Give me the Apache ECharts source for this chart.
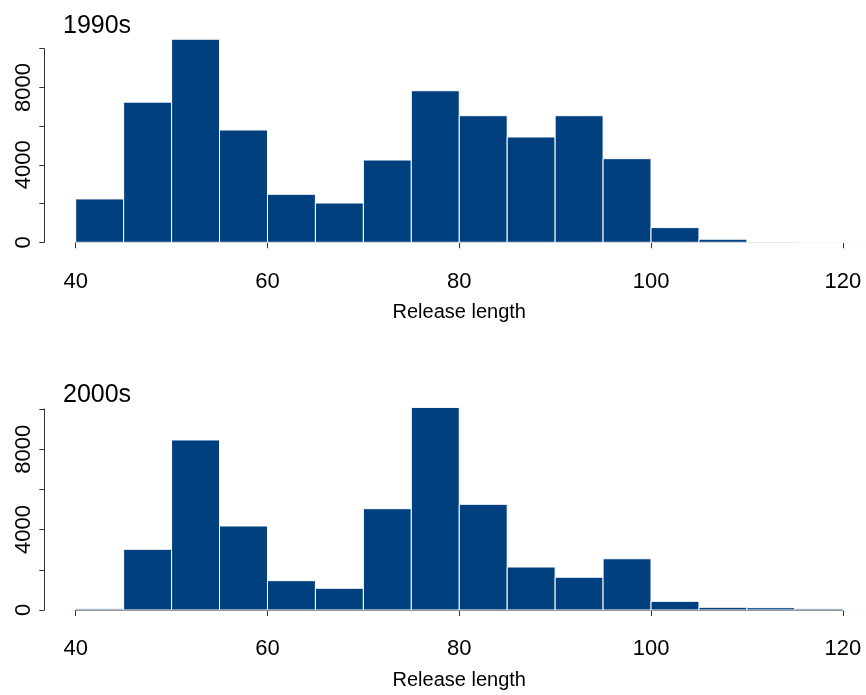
<!DOCTYPE html>
<html>
<head>
<meta charset="utf-8">
<script src="https://cdn.jsdelivr.net/npm/echarts@6/dist/echarts.min.js"></script>
<style>
  html, body { margin: 0; padding: 0; background: #fff; }
  #chart { width: 866px; height: 695px; }
</style>
</head>
<body>
<div id="chart"></div>
<script>
// histogram bins, 5 units wide
var binStarts = [40, 45, 50, 55, 60, 65, 70, 75, 80, 85, 90, 95, 100, 105, 110, 115, 120];
var binWidth = 5;
var counts1990 = [2240, 7240, 10490, 5800, 2480, 2030, 4250, 7830, 6540, 5440, 6540, 4320, 760, 160, 20, 0, 15];
var counts2000 = [60, 3020, 8460, 4180, 1460, 1080, 5040, 10080, 5260, 2140, 1630, 2550, 430, 135, 115, 65, 15];
var panelTitles = ['1990s', '2000s'];
var xTicks = [40, 60, 80, 100, 120];
var yTicks = [0, 2000, 4000, 6000, 8000, 10000];
var yLabelled = [0, 4000, 8000];

var FONT = '"Liberation Sans", Arial, sans-serif';
var BAR = '#00407f';
var INK = '#000';

function toBins(counts) {
    var out = [];
    for (var i = 0; i < counts.length; i++) {
        out.push([binStarts[i], binStarts[i] + binWidth, counts[i]]);
    }
    return out;
}

function renderBar(params, api) {
    var p0 = api.coord([api.value(0), 0]);
    var p1 = api.coord([api.value(1), api.value(2)]);
    return {
        type: 'rect',
        shape: { x: p0[0], y: p1[1], width: p1[0] - p0[0], height: p0[1] - p1[1] },
        style: { fill: BAR, stroke: '#fff', lineWidth: 1 }
    };
}

// pixel layout of the two panels
var panels = [
    { top: 48.7, height: 193.6, titleTop: 9 },
    { top: 409, height: 201, titleTop: 378 }
];

var grids = [], xAxes = [], yAxes = [], series = [], titles = [];
panels.forEach(function (p, i) {
    grids.push({ left: 75.7, right: 23.2, top: p.top, height: p.height });
    titles.push({
        text: panelTitles[i], left: 58, top: p.titleTop,
        textStyle: { fontFamily: FONT, fontSize: 25, fontWeight: 'normal', color: INK }
    });
    xAxes.push({
        type: 'value', gridIndex: i, min: xTicks[0], max: xTicks[xTicks.length - 1], interval: 20,
        offset: 8.4,
        splitLine: { show: false },
        axisLine: { show: true, lineStyle: { color: '#333', width: 1 } },
        axisTick: { show: true, length: 6, lineStyle: { color: '#333' } },
        axisLabel: { fontFamily: FONT, fontSize: 22, color: INK, margin: 20 },
        name: 'Release length', nameLocation: 'middle', nameGap: 52,
        nameTextStyle: { fontFamily: FONT, fontSize: 20, color: INK }
    });
    yAxes.push({
        type: 'value', gridIndex: i, min: yTicks[0], max: yTicks[yTicks.length - 1], interval: 2000,
        offset: 31.4,
        splitLine: { show: false },
        axisLine: { show: true, lineStyle: { color: '#333', width: 1 } },
        axisTick: { show: true, length: 5, lineStyle: { color: '#333' } },
        axisLabel: {
            fontFamily: FONT, fontSize: 22, color: INK, rotate: 90, margin: 9,
            formatter: function (v) { return yLabelled.indexOf(v) >= 0 ? String(v) : ''; }
        }
    });
    series.push({
        type: 'custom', xAxisIndex: i, yAxisIndex: i, clip: false,
        renderItem: renderBar,
        encode: { x: [0, 1], y: 2 },
        data: toBins(i === 0 ? counts1990 : counts2000),
        silent: true
    });
});

var chart = echarts.init(document.getElementById('chart'), null, { renderer: 'canvas' });
chart.setOption({
    animation: false,
    backgroundColor: '#fff',
    title: titles,
    grid: grids,
    xAxis: xAxes,
    yAxis: yAxes,
    series: series
});
</script>
</body>
</html>
